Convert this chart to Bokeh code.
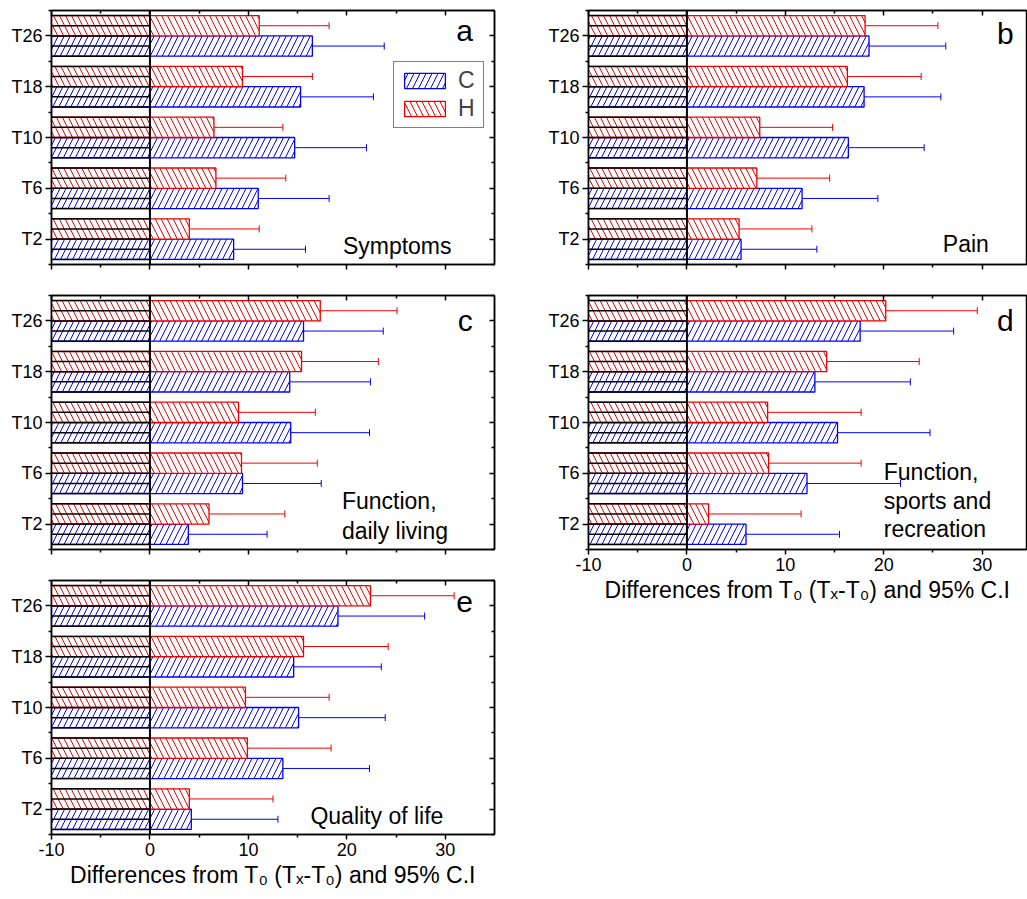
from bokeh.plotting import figure
from bokeh.models import (Range1d, FixedTicker, LinearAxis, Span, Label, Legend,
                          LegendItem, ColumnDataSource, Whisker, TeeHead,
                          CustomLabelingPolicy)
from bokeh.layouts import column, row
from bokeh.embed import file_html
from bokeh.resources import INLINE

CATEGORIES = ["T2", "T6", "T10", "T18", "T26"]
X_TICKS = [-10, 0, 10, 20, 30]
X_TICK_LABELS = ["-10", "0", "10", "20", "30"]
X_MINOR = [-5, 5, 15, 25]
X_TITLE = "Differences from T\u2080 (T\u2093-T\u2080) and 95% C.I"

# a: Symptoms
A_C = [8.5, 11.0, 14.7, 15.3, 16.5]
A_C_LO = [1.3, 3.7, 7.4, 7.8, 9.2]
A_C_HI = [15.8, 18.2, 22.0, 22.7, 23.8]
A_H = [4.0, 6.7, 6.5, 9.4, 11.1]
A_H_LO = [-3.0, -0.4, -0.6, 2.3, 4.0]
A_H_HI = [11.1, 13.8, 13.5, 16.5, 18.2]

# b: Pain
B_C = [5.5, 11.7, 16.4, 18.0, 18.5]
B_C_LO = [-2.3, 4.0, 8.6, 10.1, 10.8]
B_C_HI = [13.2, 19.4, 24.1, 25.8, 26.3]
B_H = [5.3, 7.1, 7.4, 16.3, 18.1]
B_H_LO = [-2.1, -0.4, -0.2, 8.9, 10.6]
B_H_HI = [12.7, 14.5, 14.8, 23.8, 25.5]

# c: Function, daily living
C_C = [3.9, 9.4, 14.3, 14.2, 15.6]
C_C_LO = [-4.1, 1.4, 6.3, 6.0, 7.5]
C_C_HI = [11.9, 17.4, 22.3, 22.4, 23.7]
C_H = [6.0, 9.3, 9.0, 15.4, 17.3]
C_H_LO = [-1.8, 1.5, 1.2, 7.5, 9.4]
C_H_HI = [13.7, 17.0, 16.8, 23.2, 25.1]

# d: Function, sports and recreation
D_C = [6.0, 12.2, 15.3, 13.0, 17.6]
D_C_LO = [-3.5, 2.7, 5.7, 3.3, 8.0]
D_C_HI = [15.5, 21.7, 24.7, 22.7, 27.1]
D_H = [2.2, 8.3, 8.2, 14.2, 20.2]
D_H_LO = [-7.2, -1.2, -1.3, 4.8, 10.7]
D_H_HI = [11.6, 17.7, 17.7, 23.6, 29.5]

# e: Quality of life
E_C = [4.2, 13.5, 15.1, 14.6, 19.1]
E_C_LO = [-4.5, 4.7, 6.3, 5.5, 10.2]
E_C_HI = [13.0, 22.3, 23.9, 23.5, 27.9]
E_H = [4.0, 9.9, 9.7, 15.6, 22.4]
E_H_LO = [-4.6, 1.3, 1.1, 7.0, 13.7]
E_H_HI = [12.5, 18.4, 18.2, 24.2, 30.9]

FONT = "Liberation Sans"
BLUE = "#0000ff"
RED = "#ee0000"
X_START = -10

NO_LABELS = "for (const i of indices) { indices.unset(i) }\nreturn indices"


def hide_labels(ax):
    ax.major_label_policy = CustomLabelingPolicy(code=NO_LABELS)
    ax.major_label_text_font_size = "1px"
    ax.major_label_standoff = 0


def make_panel(c, c_lo, c_hi, h, h_lo, h_hi, width, height, mbl, mbr, mbt, mbb,
               x_end, show_labels, right_axis):
    p = figure(width=width, height=height, x_range=Range1d(X_START, x_end),
               y_range=Range1d(0.5, len(CATEGORIES) + 0.5),
               output_backend="svg", toolbar_location=None,
               min_border_left=mbl, min_border_right=mbr,
               min_border_top=mbt, min_border_bottom=mbb)
    p.xgrid.visible = False
    p.ygrid.visible = False
    p.outline_line_color = "black"
    p.outline_line_width = 1.5
    p.background_fill_color = "white"
    p.border_fill_color = "white"

    pos = list(range(1, len(CATEGORIES) + 1))
    yticker = FixedTicker(ticks=pos, minor_ticks=[v - 0.5 for v in pos] + [pos[-1] + 0.5])
    xticker = FixedTicker(ticks=X_TICKS, minor_ticks=X_MINOR)

    # left axis
    ya = p.yaxis[0]
    ya.ticker = yticker
    ya.major_label_overrides = {v: lab for v, lab in zip(pos, CATEGORIES)}
    ya.major_label_text_font = FONT
    ya.major_label_text_font_size = "18px"
    ya.major_label_text_color = "black"
    ya.major_tick_out = 6
    ya.major_tick_in = 0
    ya.minor_tick_out = 3
    ya.minor_tick_in = 0
    ya.major_label_standoff = 3
    ya.axis_line_width = 1.5
    ya.major_tick_line_width = 1.5
    ya.minor_tick_line_width = 1.5

    # bottom axis
    xa = p.xaxis[0]
    xa.ticker = xticker
    xa.major_tick_out = 5
    xa.major_tick_in = 0
    xa.minor_tick_out = 3
    xa.minor_tick_in = 0
    xa.axis_line_width = 1.5
    xa.major_tick_line_width = 1.5
    xa.minor_tick_line_width = 1.5
    if show_labels:
        xa.major_label_overrides = {v: lab for v, lab in zip(X_TICKS, X_TICK_LABELS)}
        xa.major_label_text_font = FONT
        xa.major_label_text_font_size = "18px"
        xa.major_label_text_color = "black"
        xa.major_label_standoff = 3
        xa.axis_label = X_TITLE
        xa.axis_label_text_font = FONT
        xa.axis_label_text_font_size = "23px"
        xa.axis_label_text_font_style = "normal"
        xa.axis_label_text_color = "black"
        xa.axis_label_standoff = 3
    else:
        hide_labels(xa)

    # top axis (ticks inward)
    top = LinearAxis(ticker=xticker, major_tick_in=5, major_tick_out=0,
                     minor_tick_in=3, minor_tick_out=0, axis_line_width=1.5,
                     major_tick_line_width=1.5, minor_tick_line_width=1.5)
    hide_labels(top)
    p.add_layout(top, "above")
    if right_axis:
        ra = LinearAxis(ticker=yticker, major_tick_in=5, major_tick_out=0,
                        minor_tick_in=3, minor_tick_out=0, axis_line_width=1.5,
                        major_tick_line_width=1.5, minor_tick_line_width=1.5)
        hide_labels(ra)
        p.add_layout(ra, "right")

    yc = [v - 0.2 for v in pos]
    yh = [v + 0.2 for v in pos]
    src_c = ColumnDataSource(dict(y=yc, right=c, lo=c_lo, hi=c_hi))
    src_h = ColumnDataSource(dict(y=yh, right=h, lo=h_lo, hi=h_hi))

    rc = p.hbar(y="y", left=X_START, right="right", height=0.4, source=src_c,
                fill_color="white", line_color=BLUE, line_width=1.3,
                hatch_pattern="/", hatch_color=BLUE, hatch_scale=12,
                hatch_weight=1)
    rh = p.hbar(y="y", left=X_START, right="right", height=0.4, source=src_h,
                fill_color="white", line_color=RED, line_width=1.3,
                hatch_pattern="\\", hatch_color=RED, hatch_scale=12,
                hatch_weight=1)

    # black horizontal lines in the region left of zero
    ys = []
    for v in pos:
        for off in (-0.4, -0.2, 0.0, 0.2, 0.4):
            ys.append(v + off)
    p.segment(x0=[X_START] * len(ys), x1=[0] * len(ys), y0=ys, y1=ys,
              line_color="black", line_width=1.5)
    p.add_layout(Span(location=0, dimension="height", line_color="black",
                      line_width=2))

    for src, col in ((src_c, BLUE), (src_h, RED)):
        w = Whisker(base="y", lower="lo", upper="hi", dimension="width",
                    source=src, line_color=col, line_width=1,
                    lower_head=TeeHead(size=7, line_color=col, line_width=1),
                    upper_head=TeeHead(size=7, line_color=col, line_width=1))
        p.add_layout(w)
    return p, rc, rh


def add_text(p, x, y, text, size, align="left"):
    p.add_layout(Label(x=x, y=y, text=text, text_font=FONT, text_font_size=size,
                       text_align=align, text_baseline="alphabetic",
                       text_color="black"))


pa, rca, rha = make_panel(A_C, A_C_LO, A_C_HI, A_H, A_H_LO, A_H_HI,
                          520, 280, 51, 26, 10, 16, 35, False, True)
pb, _, _ = make_panel(B_C, B_C_LO, B_C_HI, B_H, B_H_LO, B_H_HI,
                      507, 280, 68, 1, 10, 16, 34.5, False, False)
pc, _, _ = make_panel(C_C, C_C_LO, C_C_HI, C_H, C_H_LO, C_H_HI,
                      520, 290, 51, 26, 15, 21, 35, False, True)
pd, _, _ = make_panel(D_C, D_C_LO, D_C_HI, D_H, D_H_LO, D_H_HI,
                      507, 619, 68, 1, 15, 350, 34.5, True, False)
pe, _, _ = make_panel(E_C, E_C_LO, E_C_HI, E_H, E_H_LO, E_H_HI,
                      520, 329, 51, 26, 10, 65, 35, True, True)

add_text(pa, 32.8, 5.10, "a", "30px", "right")
add_text(pb, 33.2, 5.04, "b", "30px", "right")
add_text(pc, 32.8, 5.00, "c", "30px", "right")
add_text(pd, 33.2, 5.00, "d", "30px", "right")
add_text(pe, 32.8, 5.07, "e", "30px", "right")

add_text(pa, 19.6, 0.86, "Symptoms", "23px")
add_text(pb, 26.0, 0.90, "Pain", "23px")
add_text(pc, 19.5, 1.45, "Function,", "23px")
add_text(pc, 19.5, 0.86, "daily living", "23px")
add_text(pd, 20.0, 2.02, "Function,", "23px")
add_text(pd, 20.0, 1.45, "sports and", "23px")
add_text(pd, 20.0, 0.90, "recreation", "23px")
add_text(pe, 16.3, 0.87, "Quality of life", "23px")

legend = Legend(items=[LegendItem(label="C", renderers=[rca]),
                       LegendItem(label="H", renderers=[rha])],
                location=(342, 136), label_text_font=FONT,
                label_text_font_size="23px", glyph_width=51, glyph_height=19,
                label_standoff=8, padding=5, spacing=1, margin=0,
                border_line_color="black", border_line_width=1.5,
                background_fill_color="white", background_fill_alpha=1.0)
pa.add_layout(legend)

layout = row(column(pa, pc, pe, spacing=0), column(pb, pd, spacing=0), spacing=0)
open("out.html", "w").write(file_html(layout, INLINE))
